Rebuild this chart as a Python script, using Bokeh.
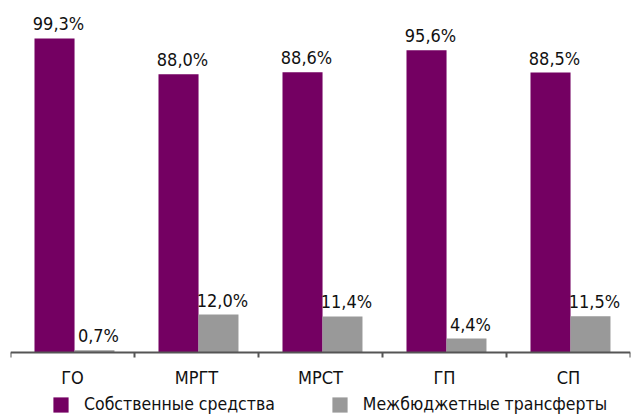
from bokeh.plotting import figure
from bokeh.models import ColumnDataSource, FixedTicker, Legend, LegendItem
from bokeh.embed import file_html
from bokeh.resources import INLINE
from bokeh.core.properties import value

categories = ["ГО", "МРГТ", "МРСТ", "ГП", "СП"]
own_funds = [99.3, 88.0, 88.6, 95.6, 88.5]
transfers = [0.7, 12.0, 11.4, 4.4, 11.5]
series_names = ["Собственные средства", "Межбюджетные трансферты"]

PURPLE = "#740062"
GRAY = "#999999"
FONT = "'DejaVu Sans Condensed', 'DejaVu Sans'"


def fmt(v):
    return f"{v:.1f}%".replace(".", ",")


idx = list(range(len(categories)))
src1 = ColumnDataSource(dict(x=[i + 0.355 for i in idx], top=own_funds,
                             label=[fmt(v) for v in own_funds]))
src2 = ColumnDataSource(dict(x=[i + 0.677 for i in idx], top=transfers,
                             label=[fmt(v) for v in transfers]))

p = figure(frame_width=620, frame_height=415, x_range=(0, len(categories)),
           y_range=(-19.92, 111.3),
           output_backend="svg", toolbar_location=None,
           min_border_left=10, min_border_right=3, min_border_top=0, min_border_bottom=0)
p.outline_line_color = None
p.grid.visible = False
p.yaxis.visible = False
p.background_fill_color = "white"
p.border_fill_color = "white"

r1 = p.vbar(x="x", top="top", width=0.323, bottom=0, source=src1,
            fill_color=PURPLE, line_color=None)
r2 = p.vbar(x="x", top="top", width=0.323, bottom=0, source=src2,
            fill_color=GRAY, line_color=None)

for src in (src1, src2):
    p.text(x="x", y="top", text="label", source=src, text_align="center",
           text_baseline="bottom", x_offset=4, y_offset=-4,
           text_font=value(FONT), text_font_size="18px", text_color="#111111")

ax = p.xaxis[0]
ax.fixed_location = 0
centers = [i + 0.5 for i in idx]
ax.ticker = FixedTicker(ticks=centers, minor_ticks=list(range(len(categories) + 1)))
ax.major_label_overrides = {c: cat for c, cat in zip(centers, categories)}
ax.major_tick_out = 0
ax.major_tick_in = 0
ax.minor_tick_out = 5
ax.minor_tick_in = 0
ax.minor_tick_line_color = "#555555"
ax.minor_tick_line_width = 2
ax.axis_line_color = "#555555"
ax.axis_line_width = 2
ax.major_label_text_font = FONT
ax.major_label_text_font_size = "18px"
ax.major_label_text_color = "#111111"
ax.major_label_standoff = 9

legend = Legend(items=[LegendItem(label=series_names[0], renderers=[r1]),
                       LegendItem(label=series_names[1], renderers=[r2])],
                orientation="horizontal", location=(41, 1),
                glyph_width=19, glyph_height=19, label_standoff=14, spacing=55,
                padding=0, margin=0, border_line_color=None,
                background_fill_alpha=0,
                label_text_font=FONT, label_text_font_size="17.5px",
                label_text_color="#111111", label_height=19)
p.add_layout(legend, "center")

open("out.html", "w").write(file_html(p, INLINE))
